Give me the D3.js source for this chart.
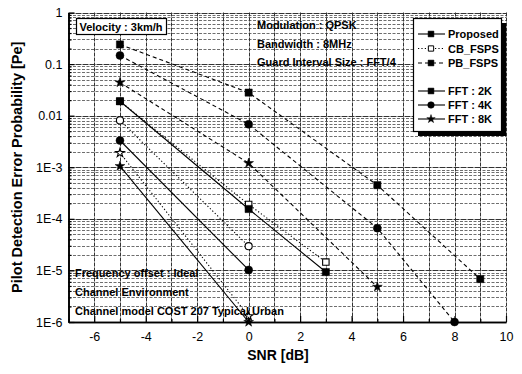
<!DOCTYPE html>
<html>
<head>
<meta charset="utf-8">
<script src="https://cdn.jsdelivr.net/npm/d3@7"></script>
<style>
  html, body { margin: 0; padding: 0; background: #fff; }
  svg { display: block; font-family: "Liberation Sans", Arial, sans-serif; }
</style>
</head>
<body>
<svg id="chart" width="522" height="374"></svg>
<script>
// SNR (dB) / pilot detection error probability pairs, one array per curve
const proposed2K = [[-5, 0.019], [0, 0.000155], [3, 0.0000093]];
const proposed4K = [[-5, 0.0033], [0, 0.0000102]];
const proposed8K = [[-5, 0.00105], [0, 0.000001]];
const cb2K = [[-5, 0.019], [0, 0.00019], [3, 0.0000145]];
const cb4K = [[-5, 0.0081], [0, 0.0000295]];
const cb8K = [[-5, 0.0019], [0, 0.0000013]];
const pb2K = [[-5, 0.24], [0, 0.028], [5, 0.00045], [9, 0.0000068]];
const pb4K = [[-5, 0.147], [0, 0.0068], [5, 0.000066], [8, 0.000001]];
const pb8K = [[-5, 0.044], [0, 0.0012], [5, 0.0000048]];

const xMajorTicks = [-6, -4, -2, 0, 2, 4, 6, 8, 10];
const xMinorTicks = [-7, -5, -3, -1, 1, 3, 5, 7, 9];
const yMajorTicks = [1, 0.1, 0.01, 1e-3, 1e-4, 1e-5, 1e-6];
const yTickLabels = ["1", "0.1", "0.01", "1E-3", "1E-4", "1E-5", "1E-6"];
const methodNames = ["Proposed", "CB_FSPS", "PB_FSPS"];
const fftNames = ["FFT : 2K", "FFT : 4K", "FFT : 8K"];
const topLeftNote = "Velocity : 3km/h";
const topNotes = ["Modulation : QPSK", "Bandwidth : 8MHz", "Guard Interval Size : FFT/4"];
const bottomNotes = ["Frequency offset : Ideal", "Channel Environment", "Channel model COST 207 Typical Urban"];

const svg = d3.select("#chart");
const plotLeft = 68.5, plotRight = 506, plotTop = 12.5, plotBottom = 322;

const x = d3.scaleLinear().domain([-7, 10]).range([plotLeft, plotRight]);
const y = d3.scaleLog().domain([1e-6, 1]).range([plotBottom, plotTop]);
const crisp = v => Math.round(v) + 0.5;

// minor log values between decades
const yMinor = [];
for (let e = -6; e < 0; e++) for (let m = 2; m <= 9; m++) yMinor.push(m * Math.pow(10, e));

// grid
const grid = svg.append("g");
grid.selectAll("line.hmin").data(yMinor).join("line")
  .attr("x1", plotLeft).attr("x2", plotRight)
  .attr("y1", d => crisp(y(d))).attr("y2", d => crisp(y(d)))
  .attr("stroke", "#6e6e6e").attr("stroke-width", 1).attr("stroke-dasharray", "3,1.5");
grid.selectAll("line.hmaj").data(yMajorTicks).join("line")
  .attr("x1", plotLeft).attr("x2", plotRight)
  .attr("y1", d => crisp(y(d))).attr("y2", d => crisp(y(d)))
  .attr("stroke", "#333").attr("stroke-width", 1).attr("stroke-dasharray", "6,1");
grid.selectAll("line.v").data(d3.range(-6, 11)).join("line")
  .attr("x1", d => crisp(x(d))).attr("x2", d => crisp(x(d)))
  .attr("y1", plotTop).attr("y2", plotBottom)
  .attr("stroke", "#333").attr("stroke-width", 1).attr("stroke-dasharray", "4,1");

// axes
svg.append("g").attr("transform", `translate(0,${plotBottom})`)
  .call(d3.axisBottom(x).tickValues(xMajorTicks).tickSizeInner(-6).tickSizeOuter(0).tickPadding(10)
    .tickFormat(d => d));
svg.append("g").attr("transform", `translate(0,${plotBottom})`)
  .call(d3.axisBottom(x).tickValues(xMinorTicks).tickSizeInner(-3).tickSizeOuter(0).tickFormat(""));
svg.append("g").attr("transform", `translate(${plotLeft},0)`)
  .call(d3.axisLeft(y).tickValues(yMajorTicks).tickSizeInner(-6).tickSizeOuter(0).tickPadding(6)
    .tickFormat((d, i) => yTickLabels[i]));
svg.append("g").attr("transform", `translate(${plotLeft},0)`)
  .call(d3.axisLeft(y).tickValues(yMinor).tickSizeInner(-3).tickSizeOuter(0).tickFormat(""));
svg.selectAll(".domain").attr("stroke", "#000").attr("stroke-width", 1.6);
svg.selectAll(".tick line").attr("stroke", "#000").attr("stroke-width", 1.2);
svg.selectAll(".tick text").attr("font-size", 12.5).attr("fill", "#000")
  .attr("font-family", "'Liberation Sans', Arial, sans-serif");

// axis titles
svg.append("text").attr("x", 278).attr("y", 360)
  .attr("text-anchor", "middle").attr("font-size", 14).attr("font-weight", "bold")
  .text("SNR [dB]");
svg.append("text").attr("transform", `translate(22,${(plotTop + plotBottom) / 2}) rotate(-90)`)
  .attr("text-anchor", "middle").attr("font-size", 14.5).attr("font-weight", "bold")
  .text("Pilot Detection Error Probability [Pe]");

// curves
const lineGen = d3.line().x(d => x(d[0])).y(d => y(d[1]));
const dashFor = { Proposed: null, CB_FSPS: "1.2,2.2", PB_FSPS: "4,3" };
const symFor = { "2K": d3.symbolSquare, "4K": d3.symbolCircle, "8K": d3.symbolStar };
const sizeFor = { "2K": 52, "4K": 50, "8K": 30 };

const curves = [
  { method: "PB_FSPS", fft: "2K", data: pb2K },
  { method: "PB_FSPS", fft: "4K", data: pb4K },
  { method: "PB_FSPS", fft: "8K", data: pb8K },
  { method: "CB_FSPS", fft: "2K", data: cb2K },
  { method: "CB_FSPS", fft: "4K", data: cb4K },
  { method: "CB_FSPS", fft: "8K", data: cb8K },
  { method: "Proposed", fft: "2K", data: proposed2K },
  { method: "Proposed", fft: "4K", data: proposed4K },
  { method: "Proposed", fft: "8K", data: proposed8K }
];

const plot = svg.append("g");
curves.forEach(c => {
  plot.append("path").attr("d", lineGen(c.data))
    .attr("fill", "none").attr("stroke", "#000").attr("stroke-width", 1.1)
    .attr("stroke-dasharray", dashFor[c.method]);
});
curves.forEach(c => {
  const open = c.method === "CB_FSPS";
  plot.selectAll(null).data(c.data).join("path")
    .attr("transform", d => `translate(${x(d[0])},${y(d[1])})`)
    .attr("d", d3.symbol(symFor[c.fft], open ? sizeFor[c.fft] * 0.8 : sizeFor[c.fft]))
    .attr("fill", open ? "#fff" : "#000")
    .attr("stroke", "#000").attr("stroke-width", open ? 1.1 : 0.5);
});

// annotations
const note = svg.append("g").attr("font-size", 11).attr("font-weight", "bold").attr("fill", "#000");
note.append("rect").attr("x", 76.5).attr("y", 18.5).attr("width", 90).attr("height", 16)
  .attr("fill", "#fff").attr("stroke", "#000").attr("stroke-width", 1.2);
note.append("text").attr("x", 121).attr("y", 30.5).attr("text-anchor", "middle").text(topLeftNote);
note.selectAll("text.top").data(topNotes).join("text")
  .attr("x", 257).attr("y", (d, i) => 29 + i * 18.5).text(d => d);
note.selectAll("text.bot").data(bottomNotes).join("text")
  .attr("x", 75).attr("y", (d, i) => 277 + i * 19).text(d => d);

// legend
const lg = svg.append("g");
lg.append("rect").attr("x", 418).attr("y", 23).attr("width", 88).attr("height", 113).attr("fill", "#000");
lg.append("rect").attr("x", 413.5).attr("y", 18.5).attr("width", 88).attr("height", 113)
  .attr("fill", "#fff").attr("stroke", "#000").attr("stroke-width", 1.2);
const legendRows = [
  { label: methodNames[0], dash: dashFor.Proposed, sym: "2K", open: false, y: 34 },
  { label: methodNames[1], dash: dashFor.CB_FSPS, sym: "2K", open: true, y: 48.5 },
  { label: methodNames[2], dash: dashFor.PB_FSPS, sym: "2K", open: false, y: 63 },
  { label: fftNames[0], dash: null, sym: "2K", open: false, y: 91 },
  { label: fftNames[1], dash: null, sym: "4K", open: false, y: 105 },
  { label: fftNames[2], dash: null, sym: "8K", open: false, y: 119 }
];
legendRows.forEach(r => {
  lg.append("line").attr("x1", 418).attr("x2", 445).attr("y1", r.y).attr("y2", r.y)
    .attr("stroke", "#000").attr("stroke-width", 1.1).attr("stroke-dasharray", r.dash);
  lg.append("path").attr("transform", `translate(431,${r.y})`)
    .attr("d", d3.symbol(symFor[r.sym], r.sym === "8K" ? 22 : (r.open ? 28 : 34)))
    .attr("fill", r.open ? "#fff" : "#000").attr("stroke", "#000").attr("stroke-width", r.open ? 1 : 0.5);
  lg.append("text").attr("x", 448).attr("y", r.y + 4).attr("font-size", 11).attr("font-weight", "bold")
    .text(r.label);
});
</script>
</body>
</html>
